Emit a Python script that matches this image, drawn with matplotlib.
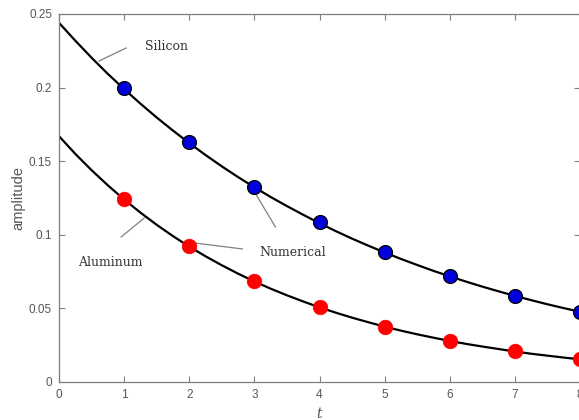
import matplotlib
matplotlib.use("Agg")
import matplotlib.pyplot as plt

t_curve = [0, 0.25, 0.5, 0.75, 1, 1.25, 1.5, 1.75, 2, 2.25, 2.5, 2.75, 3, 3.25, 3.5, 3.75,
           4, 4.25, 4.5, 4.75, 5, 5.25, 5.5, 5.75, 6, 6.25, 6.5, 6.75, 7, 7.25, 7.5, 7.75, 8]
silicon_curve = [0.2440, 0.2319, 0.2203, 0.2093, 0.1990, 0.1891, 0.1797, 0.1708,
                 0.1623, 0.1542, 0.1465, 0.1392, 0.1323, 0.1257, 0.1195, 0.1136,
                 0.1079, 0.1025, 0.0974, 0.0926, 0.0880, 0.0836, 0.0795, 0.0755,
                 0.0718, 0.0682, 0.0648, 0.0616, 0.0585, 0.0556, 0.0528, 0.0502, 0.0477]
aluminum_curve = [0.1670, 0.1550, 0.1439, 0.1336, 0.1240, 0.1151, 0.1068, 0.0991,
                  0.0920, 0.0854, 0.0793, 0.0736, 0.0683, 0.0634, 0.0589, 0.0547,
                  0.0507, 0.0471, 0.0437, 0.0406, 0.0376, 0.0349, 0.0324, 0.0301,
                  0.0279, 0.0259, 0.0241, 0.0224, 0.0207, 0.0192, 0.0179, 0.0166, 0.0154]

# Numerical points
t_points = [1, 2, 3, 4, 5, 6, 7, 8]
silicon_points = [0.1997, 0.1630, 0.1325, 0.1087, 0.0883, 0.0720, 0.0584, 0.0476]
aluminum_points = [0.1243, 0.0924, 0.0686, 0.0507, 0.0376, 0.0279, 0.0211, 0.0154]

x_ticks = [0, 1, 2, 3, 4, 5, 6, 7, 8]
y_ticks = [0, 0.05, 0.1, 0.15, 0.2, 0.25]
y_tick_labels = ["0", "0.05", "0.1", "0.15", "0.2", "0.25"]

W, H = 579, 420
fig = plt.figure(figsize=(W / 100, H / 100), dpi=100)
ax = fig.add_axes([59 / W, (H - 382) / H, 521 / W, 368 / H])

ax.plot(t_curve, silicon_curve, color="black", lw=1.6, zorder=2)
ax.plot(t_curve, aluminum_curve, color="black", lw=1.6, zorder=2)
ax.plot(t_points, silicon_points, "o", ms=10, mfc="#0000dd", mec="black", mew=0.9, zorder=3)
ax.plot(t_points, aluminum_points, "o", ms=10.5, mfc="#ff0000", mec="#ff0000", mew=0.5, zorder=3)

ax.set_xlim(0, 8)
ax.set_ylim(0, 0.25)
ax.set_xticks(x_ticks)
ax.set_yticks(y_ticks)
ax.set_yticklabels(y_tick_labels)

gray = "#7f7f7f"
for s in ax.spines.values():
    s.set_color(gray)
    s.set_linewidth(0.9)
ax.tick_params(direction="in", length=4, width=0.8, color=gray, labelcolor="#555555",
               labelsize=8.5, top=True, right=True, pad=5)
for lab in ax.get_xticklabels() + ax.get_yticklabels():
    lab.set_fontfamily("Liberation Sans")

ax.set_ylabel("amplitude", family="Liberation Sans", fontsize=10.5, color="#555555")
ax.yaxis.set_label_coords((18 - 59) / 521, 0.5)
ax.set_xlabel("t", family="DejaVu Serif", style="italic", fontsize=10, color="#555555")
ax.xaxis.set_label_coords((319 - 59) / 521, (382 - 414) / 368)
ax.xaxis.label.set_va("center")
ax.yaxis.label.set_va("center")

lc = "#808080"
ax.plot([0.615, 1.031], [0.2181, 0.2269], color=lc, lw=0.9, zorder=1)
ax.plot([0.954, 1.308], [0.0985, 0.1114], color=lc, lw=0.9, zorder=1)
ax.plot([2.815, 2.092], [0.0904, 0.0944], color=lc, lw=0.9, zorder=1)
ax.plot([3.323, 3.031], [0.1053, 0.1270], color=lc, lw=0.9, zorder=1)

tkw = dict(family="DejaVu Serif", fontsize=9, color="#333333", va="center", ha="left")
ax.text(1.323, 0.2276, "Silicon", **tkw)
ax.text(0.292, 0.0815, "Aluminum", **tkw)
ax.text(3.077, 0.0883, "Numerical", **tkw)

fig.savefig("out.png", dpi=100)
